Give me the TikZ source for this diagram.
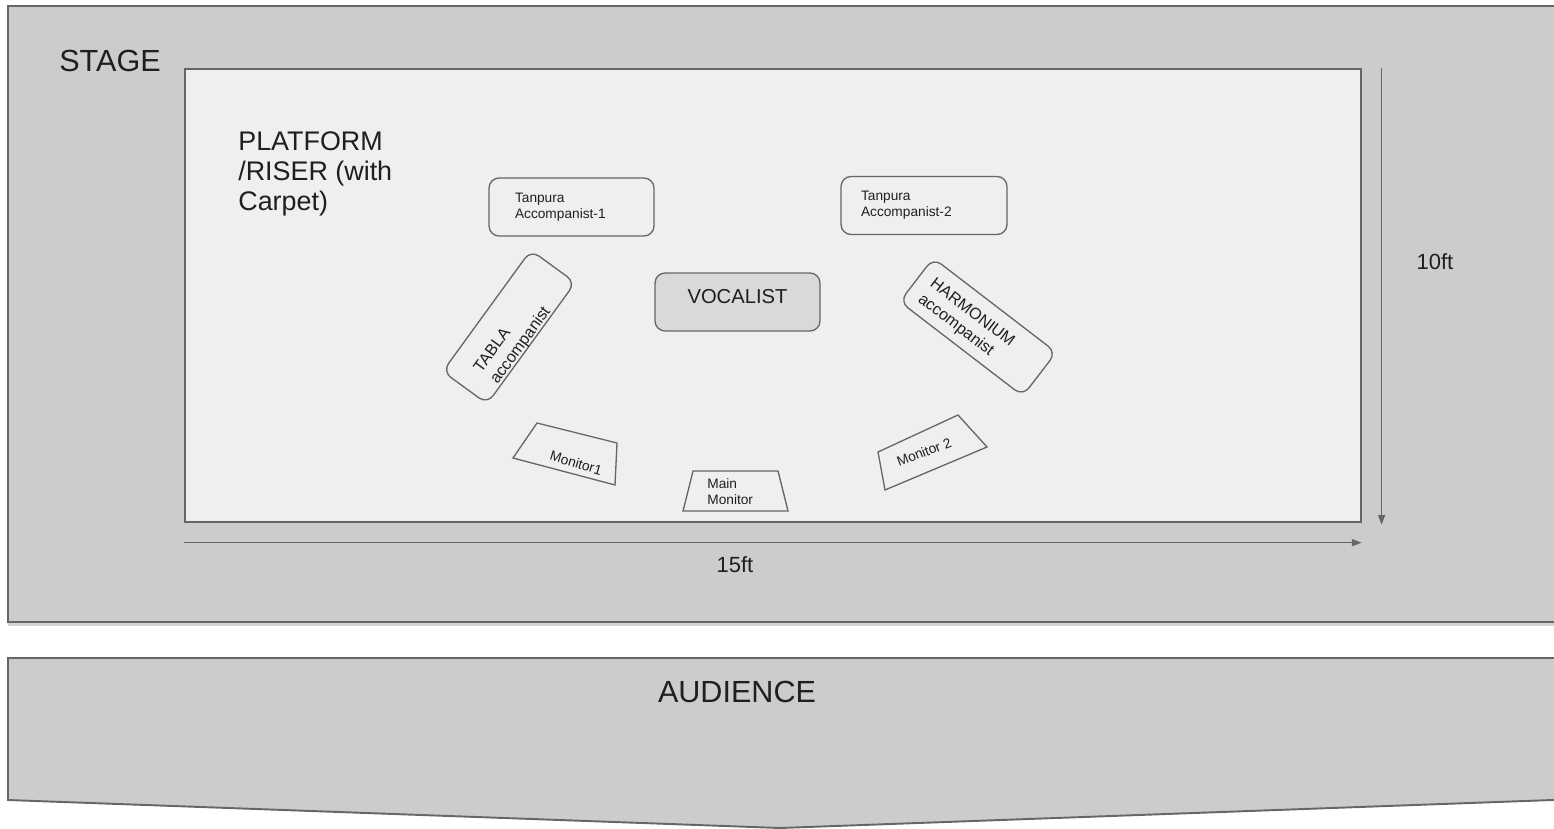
\documentclass[tikz,border=0pt]{standalone}
\usepackage{fontspec}
\setmainfont{Liberation Sans}
\usetikzlibrary{arrows.meta,shadows}
\definecolor{stagegray}{HTML}{CCCCCC}
\definecolor{riserfill}{HTML}{EFEFEF}
\definecolor{vocalfill}{HTML}{D9D9D9}
\definecolor{edgegray}{HTML}{666666}
\definecolor{textdark}{HTML}{1F1F1F}

\begin{document}
\begin{tikzpicture}[
   x=0.02cm, y=-0.02cm,
   area/.style={draw=edgegray, fill=stagegray, line width=1.1pt},
   box/.style={draw=edgegray, line width=0.75pt, rounded corners=0.2cm,
      minimum width=3.3cm, minimum height=1.16cm, text=textdark},
   monitor/.style={draw=edgegray, line width=0.75pt},
   big/.style={text=textdark, font=\fontsize{17.4}{20}\selectfont},
   dim/.style={text=textdark, font=\fontsize{12.5}{15}\selectfont},
   small/.style={text=textdark, font=\fontsize{7.8}{9}\selectfont},
   mid/.style={text=textdark, font=\fontsize{9.2}{11.3}\selectfont, align=left},
   dimarrow/.style={draw=edgegray, line width=0.75pt, -{Triangle[length=5.5pt,width=4pt]}}
]
\useasboundingbox (0,0) rectangle (1554,828);
\clip (0,0) rectangle (1554,828);

% Areas
\draw[area, drop shadow={shadow xshift=0pt, shadow yshift=-2.5pt, opacity=0.35}]
   (8,6) rectangle (1580,622);
\draw[area] (8,658) -- (1580,658) -- (1580,799) -- (780,828) -- (8,800) -- cycle;
\node[draw=edgegray, fill=riserfill, line width=0.8pt, inner sep=0pt,
   minimum width=23.52cm, minimum height=9.06cm] (riser) at (773,295.5) {};

% Labels
\node[big] (stage) at (110,61) {STAGE};
\node[big] (audience) at (737,692) {AUDIENCE};
\node[text=textdark, font=\fontsize{15.3}{17.3}\selectfont, align=left,
   anchor=north west, inner sep=0pt] (riserlabel) at (238,131)
   {PLATFORM\\/RISER (with\\Carpet)};

% Performers
\node[box, align=left, text width=2.26cm, inner xsep=0.52cm, font=\fontsize{7.8}{9}\selectfont]
   (tanpura1) at (571.5,207) {Tanpura\\Accompanist-1};
\node[box, align=left, text width=2.52cm, inner xsep=0.4cm, font=\fontsize{7.8}{9}\selectfont]
   (tanpura2) at (924,205.5) {Tanpura\\Accompanist-2};
\node[box, fill=vocalfill, font=\fontsize{11.5}{14}\selectfont,
   text height=8.4pt, text depth=6.8pt] (vocal) at (737.5,302) {VOCALIST};
\node[box, rotate=54, minimum width=3.0cm, minimum height=1.1cm] (tabla) at (509,327) {};
\node[mid, rotate=54] (tablatext) at (513,340) {TABLA\\accompanist};
\node[box, rotate=-37.5, minimum width=3.1cm, minimum height=1.1cm] (harmonium) at (978,327) {};
\node[mid, rotate=-37.5] (harmoniumtext) at (966,321) {HARMONIUM\\accompanist};

% Monitors
\draw[monitor] (537,423) -- (617,443) -- (615,485) -- (513,458) -- cycle;
\node[small, rotate=-17] (monitor1) at (576,463) {Monitor1};
\draw[monitor] (693,471) -- (778,471) -- (788,511) -- (683,511) -- cycle;
\node[small, align=left, anchor=west, inner sep=0pt] (mainmonitor) at (707,492) {Main\\Monitor};
\draw[monitor] (878,452) -- (958,415) -- (987,447) -- (885,490) -- cycle;
\node[small, rotate=21] (monitor2) at (924,452) {Monitor 2};

% Dimensions
\draw[dimarrow] ([yshift=-0.4cm]riser.south west) -- ([yshift=-0.4cm]riser.south east);
\draw[dimarrow] ([xshift=0.4cm]riser.north east) -- ([xshift=0.4cm, yshift=-0.04cm]riser.south east);
\node[dim] (width) at (735,565) {15ft};
\node[dim] (depth) at (1435,262) {10ft};

\end{tikzpicture}
\end{document}
